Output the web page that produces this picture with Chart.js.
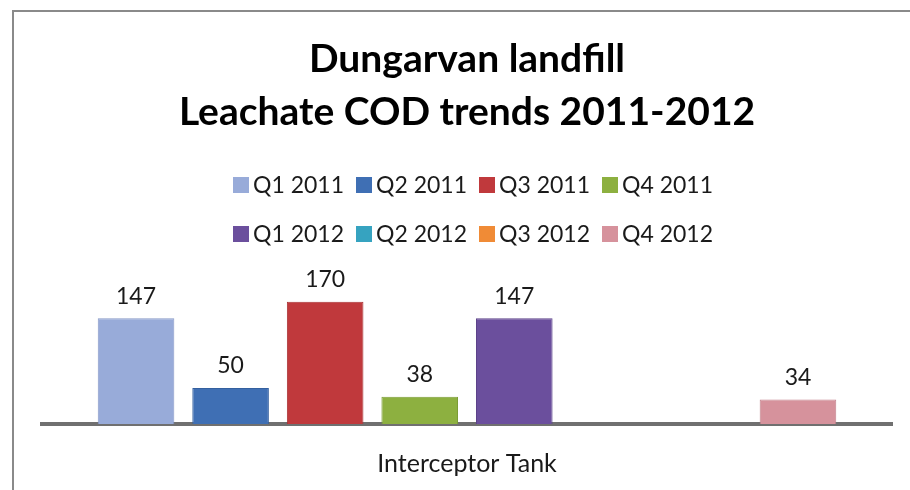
<!DOCTYPE html>
<html>
<head>
<meta charset="utf-8">
<title>Dungarvan landfill - Leachate COD trends 2011-2012</title>
<script src="https://cdn.jsdelivr.net/npm/chart.js@4.4.0/dist/chart.umd.min.js"></script>
<style>
html, body { margin: 0; padding: 0; background: #fff; }
canvas { display: block; }
</style>
</head>
<body>
<canvas id="codChart" width="910" height="490"></canvas>
<script>
// sampling point and quarterly COD results (mg/l)
var sites = ['Interceptor Tank'];
var quarters = ['Q1 2011', 'Q2 2011', 'Q3 2011', 'Q4 2011', 'Q1 2012', 'Q2 2012', 'Q3 2012', 'Q4 2012'];
var codValues = [147, 50, 170, 38, 147, null, null, 34];
var yMax = 200;

var fillColours = ['#98abd9', '#3f6fb4', '#c0393c', '#8db040', '#6b4f9d', '#36a3c0', '#f08b36', '#d6929c'];
var edgeColours = ['#8799c7', '#34609f', '#a93033', '#7b9c35', '#5c4389', '#2c8ea8', '#d87a2c', '#c2818b'];

var FONT = 'Lato';

// white card, grey frame along the top and left
var framePlugin = {
    id: 'frame',
    beforeDraw: function(chart) {
        var ctx = chart.ctx;
        ctx.save();
        ctx.fillStyle = '#ffffff';
        ctx.fillRect(0, 0, chart.width, chart.height);
        ctx.strokeStyle = '#8a8a8a';
        ctx.lineWidth = 2;
        ctx.beginPath();
        ctx.moveTo(13, chart.height);
        ctx.lineTo(13, 11);
        ctx.lineTo(chart.width, 11);
        ctx.stroke();
        ctx.restore();
    }
};

// two rows of four legend entries
var legendPlugin = {
    id: 'quarterLegend',
    afterDraw: function(chart) {
        var ctx = chart.ctx;
        var box = 16, gap = 4, spacing = 12;
        var rows = [[0, 1, 2, 3], [4, 5, 6, 7]];
        var rowY = [185, 234];
        ctx.save();
        ctx.font = '23px ' + FONT;
        ctx.textBaseline = 'middle';
        rows.forEach(function(row, r) {
            var widths = row.map(function(i) {
                return box + gap + ctx.measureText(quarters[i]).width;
            });
            var total = widths.reduce(function(a, b) { return a + b; }, 0) + spacing * (row.length - 1);
            var x = 473 - total / 2;
            row.forEach(function(i, k) {
                ctx.fillStyle = fillColours[i];
                ctx.fillRect(x, rowY[r] - box / 2, box, box);
                ctx.fillStyle = '#1a1a1a';
                ctx.fillText(quarters[i], x + box + gap, rowY[r] + 1);
                x += widths[k] + spacing;
            });
        });
        ctx.restore();
    }
};

// value printed above each bar
var valuePlugin = {
    id: 'valueLabels',
    afterDatasetsDraw: function(chart) {
        var ctx = chart.ctx;
        ctx.save();
        ctx.font = '23px ' + FONT;
        ctx.fillStyle = '#1a1a1a';
        ctx.textAlign = 'center';
        ctx.textBaseline = 'middle';
        chart.data.datasets.forEach(function(ds, i) {
            var meta = chart.getDatasetMeta(i);
            meta.data.forEach(function(bar, j) {
                var v = ds.data[j];
                if (v == null) return;
                ctx.fillText(String(v), bar.x, bar.y - 22);
            });
        });
        ctx.restore();
    }
};

var datasets = quarters.map(function(q, i) {
    return {
        label: q,
        data: [codValues[i]],
        backgroundColor: fillColours[i],
        borderColor: edgeColours[i],
        borderWidth: 1,
        barPercentage: 0.81,
        categoryPercentage: 0.89
    };
});

new Chart(document.getElementById('codChart'), {
    type: 'bar',
    data: {
        labels: sites,
        datasets: datasets
    },
    options: {
        responsive: false,
        animation: false,
        layout: {
            // tick padding is counted twice by the axis, hence the negative bottom
            padding: { top: 5, left: 42, right: 18, bottom: -14 }
        },
        plugins: {
            legend: { display: false },
            tooltip: { enabled: false },
            title: {
                display: true,
                text: ['Dungarvan landfill', 'Leachate COD trends 2011-2012'],
                color: '#000',
                font: { family: FONT, size: 39, weight: 'bold', lineHeight: 1.36 },
                padding: { top: 28, bottom: 141 }
            }
        },
        scales: {
            x: {
                grid: { display: false, drawTicks: false },
                border: { display: true, color: '#707070', width: 4 },
                ticks: {
                    color: '#1a1a1a',
                    padding: 25,
                    font: { family: FONT, size: 25, lineHeight: 1.2 }
                }
            },
            y: {
                display: false,
                min: 0,
                max: yMax
            }
        }
    },
    plugins: [framePlugin, legendPlugin, valuePlugin]
});
</script>
</body>
</html>
